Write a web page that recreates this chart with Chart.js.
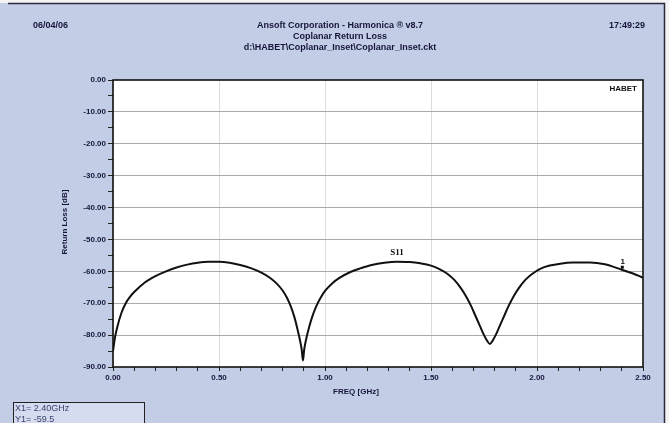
<!DOCTYPE html>
<html>
<head>
<meta charset="utf-8">
<script src="https://cdn.jsdelivr.net/npm/chart.js@4.4.1/dist/chart.umd.min.js"></script>
<style>
  html, body { margin: 0; padding: 0; background: #c4cde6; overflow: hidden; }
  #wrap { width: 669px; height: 423px; }
</style>
</head>
<body>
<div id="wrap"><canvas id="plot" width="669" height="423"></canvas></div>
<script>
// Swept frequency (GHz) and S11 return loss (dB)
const FREQ = [
  0.00, 0.01, 0.02, 0.04, 0.06, 0.08, 0.10, 0.15, 0.20, 0.25,
  0.30, 0.35, 0.40, 0.45, 0.50, 0.55, 0.60, 0.65, 0.70, 0.74,
  0.77, 0.80, 0.82, 0.84, 0.855, 0.868, 0.88, 0.89, 0.896, 0.902,
  0.912, 0.925, 0.94, 0.957, 0.98, 1.002, 1.035, 1.07, 1.12, 1.17,
  1.22, 1.28, 1.34, 1.40, 1.45, 1.50, 1.54, 1.58, 1.61, 1.64,
  1.665, 1.69, 1.71, 1.73, 1.75, 1.765, 1.778, 1.79, 1.805, 1.825,
  1.845, 1.865, 1.89, 1.915, 1.945, 1.975, 2.015, 2.06, 2.11, 2.17,
  2.25, 2.32, 2.40, 2.45, 2.50
];
const S11 = [
  -85.0, -80.5, -77.5, -73.0, -70.0, -68.0, -66.5, -63.5, -61.5, -60.0,
  -58.8, -57.9, -57.3, -57.0, -57.0, -57.3, -58.0, -59.0, -60.4, -62.0,
  -63.7, -66.0, -68.2, -71.2, -74.2, -77.5, -81.0, -84.5, -88.0, -84.5,
  -81.0, -77.5, -74.2, -71.2, -68.2, -66.0, -63.7, -62.0, -60.2, -59.0,
  -58.0, -57.3, -57.0, -57.1, -57.5, -58.2, -59.3, -60.9, -62.7, -65.2,
  -67.8, -71.0, -74.0, -77.0, -80.0, -81.8, -82.8, -81.8, -80.0, -77.0,
  -74.0, -71.0, -67.8, -65.2, -62.7, -60.9, -59.2, -58.2, -57.6, -57.25,
  -57.2, -57.8, -59.5, -60.6, -62.0
];

// Marker 1 readout
const MARKER_X = 2.40;
const MARKER_Y = -59.5;

const TRACE_NAME = 'S11';
const TRACE_LABEL_POS = [1.34, -54.2];
const LEGEND_NAME = 'HABET';

const HEADER_DATE = '06/04/06';
const HEADER_TIME = '17:49:29';
const HEADER_LINES = [
  'Ansoft Corporation - Harmonica \u00ae v8.7',
  'Coplanar Return Loss',
  'd:\\HABET\\Coplanar_Inset\\Coplanar_Inset.ckt'
];
const X_TITLE = 'FREQ [GHz]';
const Y_TITLE = 'Return Loss [dB]';

const FONT = '"Liberation Sans Narrow", "Liberation Sans", Arial, sans-serif';
const INK = '#15163a';

// page furniture: background, plot frame, header, annotations, marker box
const plotFrame = {
  id: 'plotFrame',
  beforeDraw(chart) {
    const { ctx, chartArea: a, width, height } = chart;
    ctx.save();
    ctx.fillStyle = '#c4cde6';
    ctx.fillRect(0, 0, width, height);
    ctx.fillStyle = '#f4f4f4';
    ctx.fillRect(0, 0, width, 3);
    ctx.fillRect(665, 0, width - 665, height);
    ctx.strokeStyle = '#2a2a3a';
    ctx.lineWidth = 1.5;
    ctx.beginPath();
    ctx.moveTo(8, 3.5);
    ctx.lineTo(664.5, 3.5);
    ctx.lineTo(664.5, height);
    ctx.stroke();
    ctx.fillStyle = '#ffffff';
    ctx.fillRect(a.left, a.top, a.right - a.left, a.bottom - a.top);
    ctx.restore();
  },
  afterDraw(chart) {
    const { ctx, chartArea: a, scales } = chart;
    ctx.save();
    ctx.strokeStyle = '#111';
    ctx.lineWidth = 1.6;
    ctx.strokeRect(a.left, a.top, a.right - a.left, a.bottom - a.top);

    ctx.fillStyle = INK;
    ctx.textBaseline = 'middle';
    ctx.font = 'bold 9px ' + FONT;
    ctx.textAlign = 'left';
    ctx.fillText(HEADER_DATE, 33, 26);
    ctx.textAlign = 'right';
    ctx.fillText(HEADER_TIME, 645, 26);
    ctx.textAlign = 'center';
    HEADER_LINES.forEach((line, i) => ctx.fillText(line, 340, 26 + i * 11));

    ctx.font = 'bold 8px ' + FONT;
    ctx.fillText(X_TITLE, 356, 392);
    ctx.save();
    ctx.translate(65, 222);
    ctx.rotate(-Math.PI / 2);
    ctx.fillText(Y_TITLE, 0, 0);
    ctx.restore();

    ctx.textAlign = 'right';
    ctx.fillStyle = '#111';
    ctx.fillText(LEGEND_NAME, 637, 89);

    // trace name and marker tag
    const x = scales.x, y = scales.y;
    ctx.textAlign = 'center';
    ctx.font = 'bold 9px "Liberation Serif", serif';
    ctx.fillText(TRACE_NAME, x.getPixelForValue(TRACE_LABEL_POS[0]), y.getPixelForValue(TRACE_LABEL_POS[1]));
    const mx = x.getPixelForValue(MARKER_X);
    const my = y.getPixelForValue(MARKER_Y);
    ctx.font = 'bold 8px ' + FONT;
    ctx.fillText('1', mx + 1, my - 8);
    ctx.fillRect(mx - 1, my - 4, 3, 3);

    // marker readout box
    ctx.fillStyle = '#d5dcef';
    ctx.fillRect(13, 402, 131, 25);
    ctx.strokeStyle = '#222';
    ctx.lineWidth = 1;
    ctx.strokeRect(13.5, 402.5, 131, 25);
    ctx.fillStyle = '#3b4170';
    ctx.font = '9px ' + FONT;
    ctx.textAlign = 'left';
    ctx.fillText('X1= ' + MARKER_X.toFixed(2) + 'GHz', 15, 409);
    ctx.fillText('Y1= ' + MARKER_Y.toFixed(1), 15, 420);
    ctx.restore();
  }
};

const isMult = (v, step) => Math.abs(Math.round(v / step) * step - v) < 1e-6;

new Chart(document.getElementById('plot'), {
  type: 'line',
  data: {
    datasets: [{
      label: TRACE_NAME,
      data: FREQ.map((f, i) => ({ x: f, y: S11[i] })),
      borderColor: '#111',
      borderWidth: 2,
      pointRadius: 0,
      cubicInterpolationMode: 'monotone',
      fill: false,
    }],
  },
  options: {
    responsive: false,
    animation: false,
    layout: { padding: { left: 0, top: 80, right: 26, bottom: 0 } },
    plugins: {
      legend: { display: false },
      tooltip: { enabled: false },
    },
    scales: {
      x: {
        type: 'linear',
        min: 0,
        max: 2.5,
        afterFit: (scale) => { scale.height = 56; },
        afterBuildTicks: (scale) => {
          const ticks = [];
          for (let i = 0; i <= 25; i++) ticks.push({ value: i / 10 });
          scale.ticks = ticks;
        },
        ticks: {
          autoSkip: false,
          maxRotation: 0,
          padding: 2,
          color: INK,
          font: { family: FONT, size: 8, weight: 'bold' },
          callback: (v) => (isMult(v, 0.5) ? v.toFixed(2) : ''),
        },
        grid: {
          color: (c) => (isMult(c.tick.value, 0.5) ? '#dcdcdc' : 'rgba(0,0,0,0)'),
          tickColor: '#222',
          tickLength: 4,
        },
        border: { display: false },
      },
      y: {
        min: -90,
        max: 0,
        afterFit: (scale) => { scale.width = 113; },
        afterBuildTicks: (scale) => {
          const ticks = [];
          for (let v = -90; v <= 0; v += 5) ticks.push({ value: v });
          scale.ticks = ticks;
        },
        ticks: {
          autoSkip: false,
          padding: 2,
          color: INK,
          font: { family: FONT, size: 8, weight: 'bold' },
          callback: (v) => (isMult(v, 10) ? v.toFixed(2) : ''),
        },
        grid: {
          color: (c) => (isMult(c.tick.value, 10) && c.tick.value > -90 && c.tick.value < 0 ? '#a9a9a9' : 'rgba(0,0,0,0)'),
          tickColor: '#222',
          tickLength: 5,
        },
        border: { display: false },
      },
    },
  },
  plugins: [plotFrame],
});
</script>
</body>
</html>
